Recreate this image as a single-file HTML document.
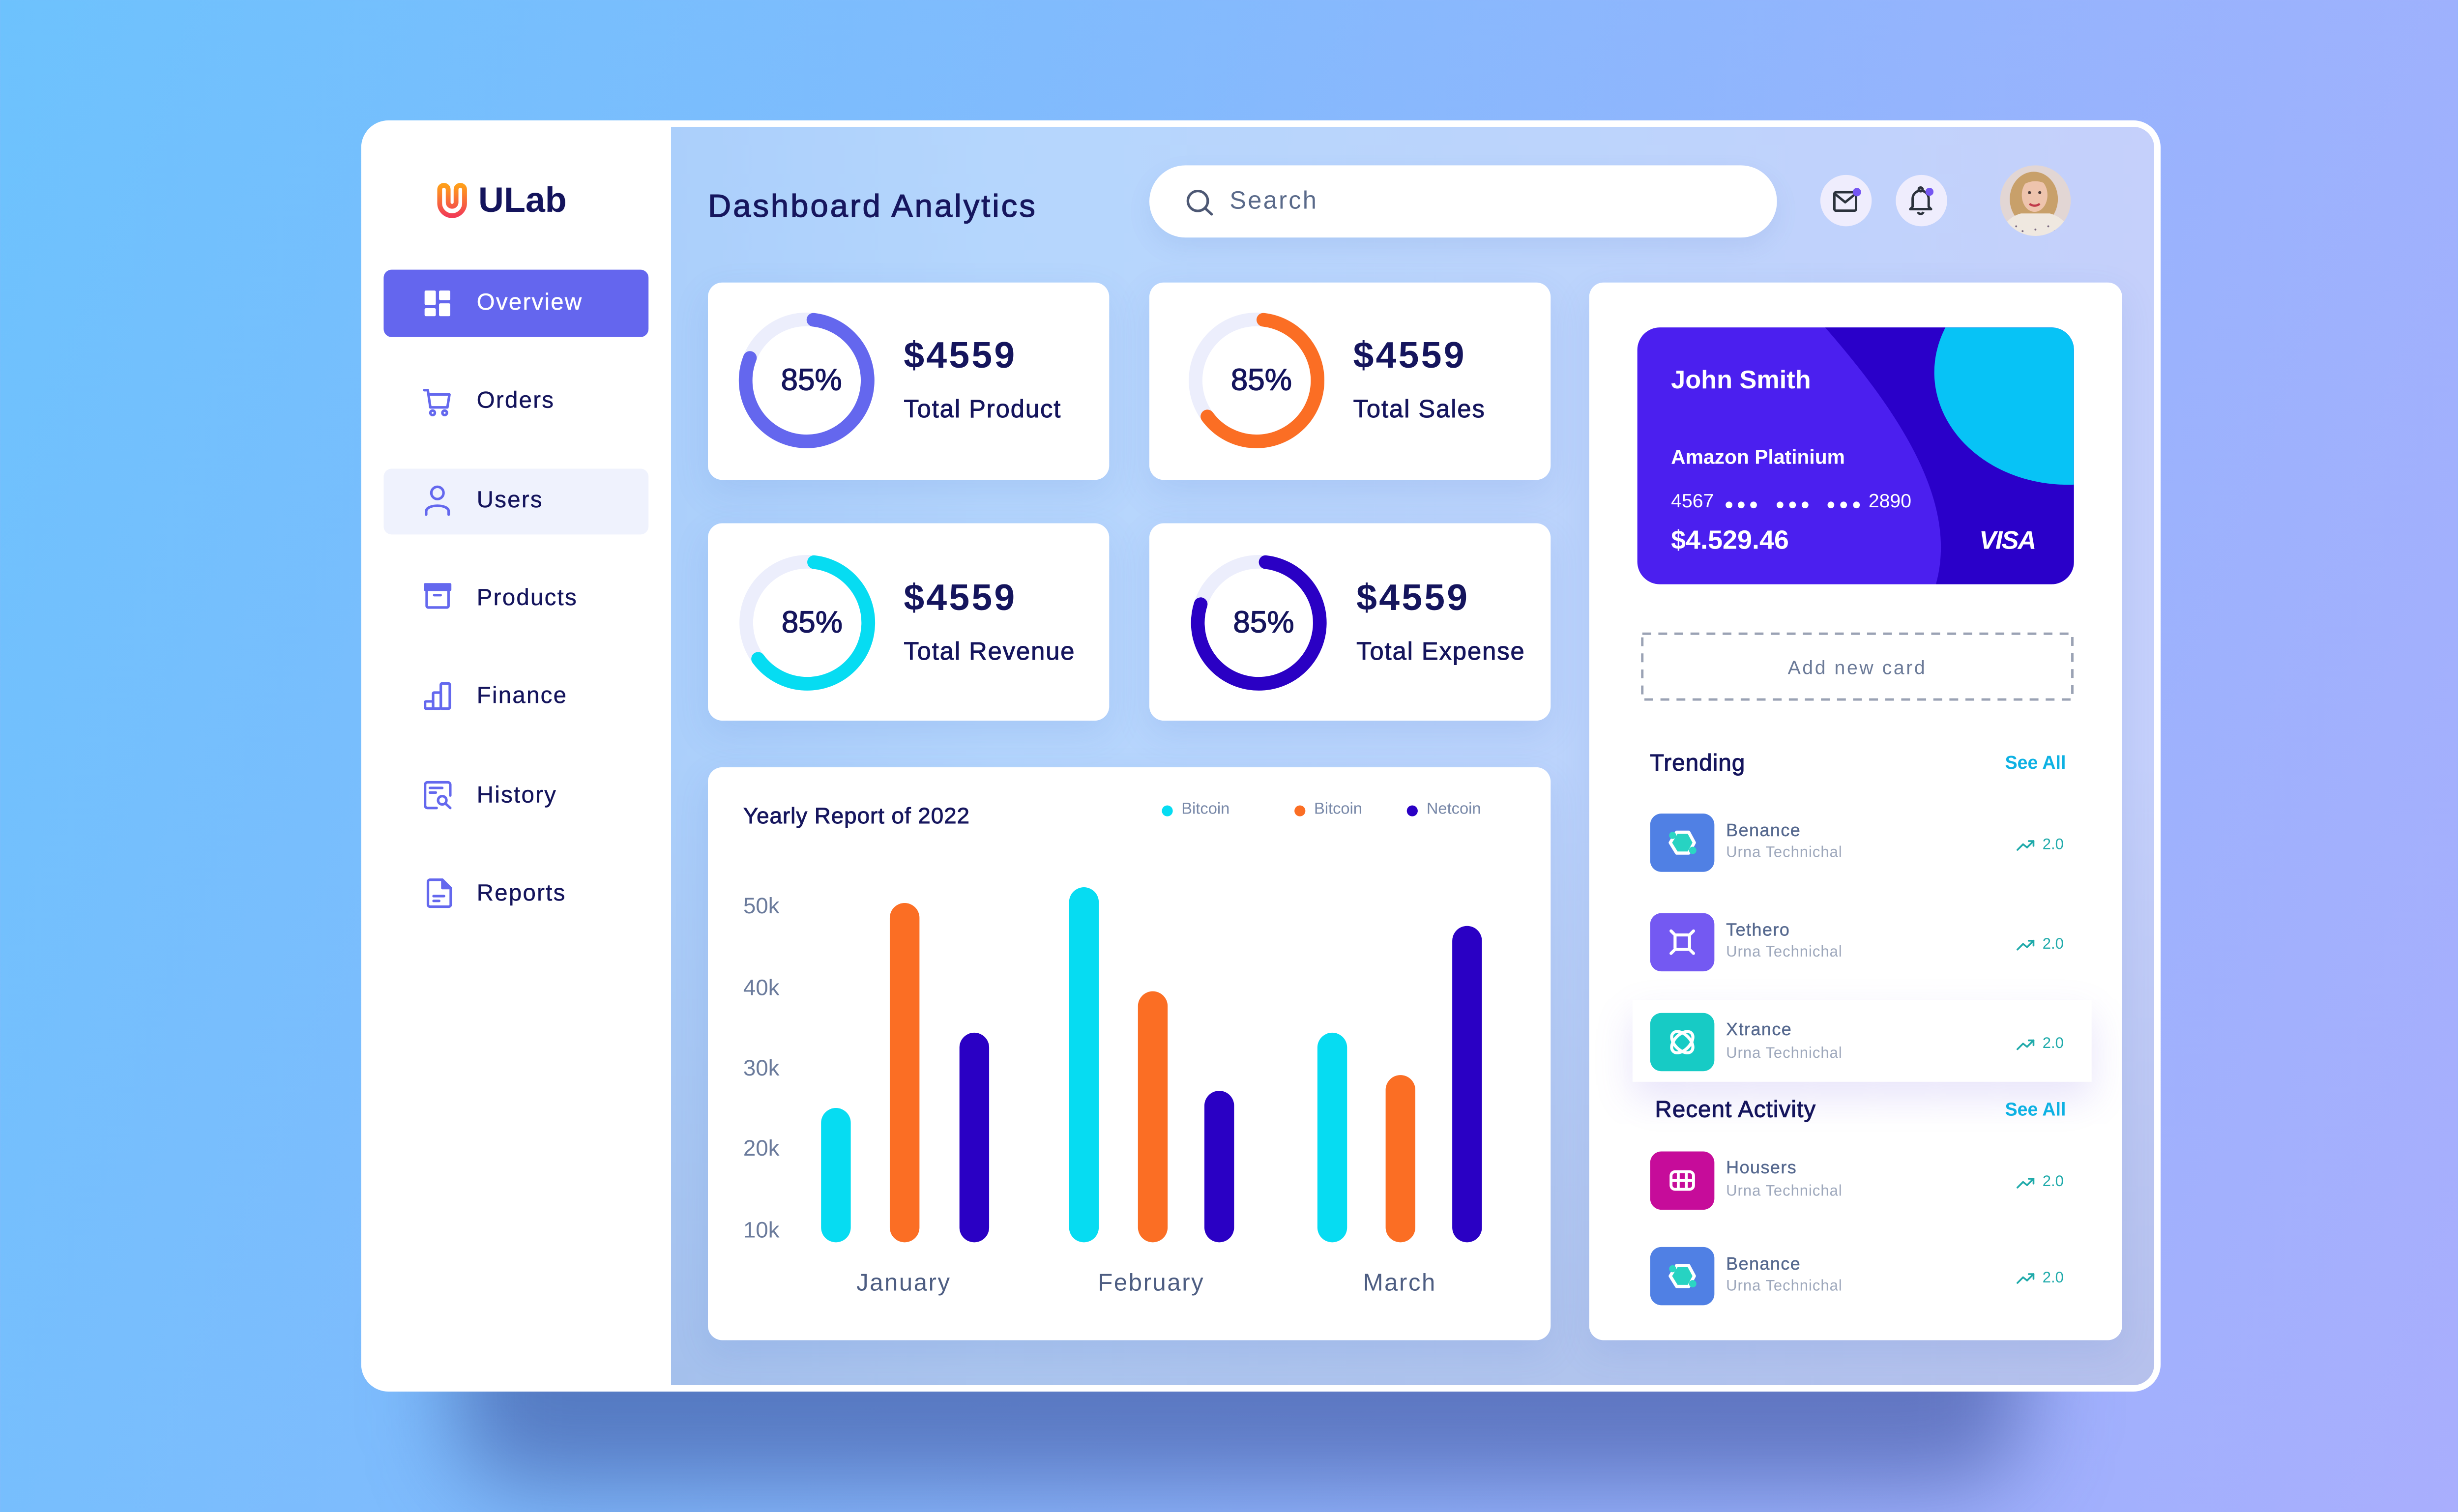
<!DOCTYPE html>
<html><head><meta charset="utf-8"><title>Dashboard Analytics</title>
<style>
html,body{margin:0;padding:0}
body{width:5120px;height:3076px;overflow:hidden;position:relative;background:linear-gradient(110deg,#6dc2fd 0%,#80bbfd 35%,#94b4fd 65%,#a9aefd 100%);font-family:"Liberation Sans",sans-serif}
#s{position:absolute;left:0;top:0;width:1568px;height:942px;transform:scale(3.265306);transform-origin:0 0}
.a{position:absolute}
.t{position:absolute;line-height:1;white-space:nowrap}
.card{position:absolute;background:#fff;border-radius:9px;box-shadow:0 8px 22px rgba(70,110,200,.13)}
.nav{left:297px;font-size:14.5px;color:#14145c;letter-spacing:.7px;-webkit-text-stroke:.15px #14145c}
.yl{left:463px;font-size:14px;color:#6b7b9c}
.ml{font-size:15px;color:#4d5d82;letter-spacing:.8px;width:120px;text-align:center}
.it{left:1075.3px;font-size:11px;color:#56698f;letter-spacing:.45px;-webkit-text-stroke:.15px #56698f}
.is{left:1075.3px;font-size:9.5px;color:#9ea8bc;letter-spacing:.3px}
.tv{left:1272.4px;font-size:9.5px;color:#1eaaaa}
.big{font-size:23px;font-weight:bold;color:#15155d;letter-spacing:1.3px}
.lab{font-size:15.5px;color:#15155d;letter-spacing:.6px;-webkit-text-stroke:.3px #15155d}
.pc{font-size:19px;color:#15155d;width:60px;text-align:center;-webkit-text-stroke:.4px #15155d}
.hd{font-size:14.5px;color:#15155d;letter-spacing:.35px;-webkit-text-stroke:.35px #15155d}
.sa{font-size:11.5px;font-weight:bold;color:#0db1e3;width:60px;text-align:right;left:1227px}
.lg{font-size:10px;color:#7888a8}
.w{color:#fff}
</style></head><body><div id="s">

<!-- frame shadow -->
<div class="a" style="left:285px;top:790px;width:975px;height:135px;background:rgba(50,70,145,.55);filter:blur(28px);border-radius:40px"></div>

<!-- frame -->
<div class="a" style="left:225px;top:75px;width:1121px;height:792px;background:#fff;border-radius:17px"></div>
<div class="a" style="left:418px;top:79px;width:924px;height:784px;border-radius:0 13px 13px 0;background:linear-gradient(180deg,rgba(150,160,205,0) 50%,rgba(150,160,205,.32) 100%),linear-gradient(90deg,#abcffb 0%,#b5d6fd 22%,#bcd4fc 60%,#c5d0fb 100%)"></div>

<!-- sidebar -->
<div class="a" style="left:239px;top:168px;width:165px;height:42px;border-radius:5px;background:#6466ee"></div>
<div class="a" style="left:239px;top:292px;width:165px;height:41px;border-radius:5px;background:#eff2fd"></div>
<div class="t" style="left:298px;top:114px;font-size:22px;font-weight:bold;color:#14145c">ULab</div>
<div class="t nav" style="top:181.8px;color:#fff;-webkit-text-stroke:.15px #fff">Overview</div>
<div class="t nav" style="top:243.2px">Orders</div>
<div class="t nav" style="top:304.8px">Users</div>
<div class="t nav" style="top:365.8px">Products</div>
<div class="t nav" style="top:427.2px">Finance</div>
<div class="t nav" style="top:488.8px">History</div>
<div class="t nav" style="top:549.8px">Reports</div>

<!-- header -->
<div class="t" style="left:441px;top:119px;font-size:20px;color:#16165e;letter-spacing:1.2px;-webkit-text-stroke:.4px #16165e">Dashboard Analytics</div>
<div class="a" style="left:716px;top:103px;width:391px;height:45px;border-radius:22.5px;background:#fff;box-shadow:0 6px 14px rgba(90,120,200,.12)"></div>
<div class="t" style="left:766px;top:118.2px;font-size:15.5px;color:#5a6a8a;letter-spacing:1px">Search</div>
<div class="a" style="left:1133.5px;top:109.3px;width:32px;height:32px;border-radius:50%;background:#efedfd"></div>
<div class="a" style="left:1180.5px;top:109.3px;width:32px;height:32px;border-radius:50%;background:#efedfd"></div>

<!-- stat cards -->
<div class="card" style="left:441px;top:176px;width:250px;height:123px"></div>
<div class="card" style="left:716px;top:176px;width:250px;height:123px"></div>
<div class="card" style="left:441px;top:326px;width:250px;height:123px"></div>
<div class="card" style="left:716px;top:326px;width:250px;height:123px"></div>
<div class="card" style="left:441px;top:478px;width:525px;height:357px"></div>
<div class="card" style="left:990px;top:176px;width:332px;height:659px"></div>

<!-- highlighted row -->
<div class="a" style="left:1016.8px;top:623px;width:286.6px;height:51.4px;background:#fff;box-shadow:0 10px 24px rgba(120,100,230,.18)"></div>

<!-- visa card -->
<div class="a" style="left:1020px;top:204px;width:272px;height:160px;border-radius:14px;overflow:hidden;background:#4b1fef">
<svg width="272" height="160" viewBox="0 0 272 160" style="position:absolute;left:0;top:0">
<path d="M117 0 C165 55 200 110 186 160 L272 160 L272 0 Z" fill="#2a00c9"/>
<ellipse cx="268" cy="28" rx="83" ry="70" fill="#07c3f6"/>
</svg>
</div>

<!-- global svg layer -->
<svg class="a" style="left:0;top:0" width="1568" height="942" viewBox="0 0 1568 942">
<defs>
<linearGradient id="lg1" x1="0" y1="0" x2="0" y2="1"><stop offset="0" stop-color="#ff9f1a"/><stop offset="1" stop-color="#f23d56"/></linearGradient>
<clipPath id="av"><circle cx="1268" cy="125" r="22"/></clipPath>
</defs>
<!-- logo -->
<g transform="translate(271.4,113.6)">
<path d="M7.8 12.5 V4.5 a2.65 2.65 0 0 0 -5.3 0 V13 a7.75 7.75 0 0 0 15.5 0 V4.5 a2.65 2.65 0 0 0 -5.3 0 V12.5 a2.45 2.45 0 0 1 -4.9 0 Z" fill="none" stroke="url(#lg1)" stroke-width="3" stroke-linejoin="round"/>
</g>
<!-- nav icons -->
<g fill="#fff" transform="translate(264.5,181)">
<rect x="0" y="0" width="7" height="9" rx=".8"/><rect x="9" y="0" width="7" height="6" rx=".8"/><rect x="0" y="11" width="7" height="5" rx=".8"/><rect x="9" y="8" width="7" height="8" rx=".8"/>
</g>
<g fill="none" stroke="#6468ee" stroke-width="1.6" stroke-linejoin="round" stroke-linecap="round">
<g transform="translate(263.5,242.3)"><path d="M0.8 0.8 H3 L4.6 11.5 H15.2 L16.5 3.5 H3.6"/><circle cx="6" cy="14.9" r="1.4"/><circle cx="13.5" cy="14.9" r="1.4"/></g>
<g transform="translate(264.5,302.6)"><circle cx="8" cy="4.5" r="3.8"/><path d="M1 18 V16 C1 11.3 15 11.3 15 16 V18"/></g>
<g transform="translate(264.5,363.8)"><rect x="0.3" y="0.3" width="15.6" height="3.3" fill="#6468ee"/><rect x="1.3" y="3.6" width="13.6" height="11.1" rx="1"/><path d="M6 7 H10"/></g>
<g transform="translate(264,425)"><rect x="0.8" y="12" width="5" height="4.5" rx=".6"/><rect x="5.8" y="6.5" width="4.8" height="10" rx=".6"/><rect x="10.6" y="0.8" width="5.6" height="15.7" rx=".8"/></g>
<g transform="translate(264,486.6)"><path d="M16.5 9 V2.3 a1.5 1.5 0 0 0 -1.5 -1.5 H2.3 a1.5 1.5 0 0 0 -1.5 1.5 V15.3 a1.5 1.5 0 0 0 1.5 1.5 H8"/><path d="M3.8 4.3 H11.5 M3.8 7.2 H7.5"/><circle cx="11.5" cy="12" r="2.6"/><path d="M13.4 13.9 L16.5 16.8"/></g>
<g transform="translate(265.6,547.3)"><path d="M2.3 0.8 H10 L15.2 6 V16.3 a1.3 1.3 0 0 1 -1.3 1.3 H2.3 a1.3 1.3 0 0 1 -1.3 -1.3 V2.1 a1.3 1.3 0 0 1 1.3 -1.3 Z"/><path d="M10 0.8 V6 H15.2" fill="#6468ee"/><path d="M4.5 11 H11 M4.5 14 H8"/></g>
</g>
<!-- search / header icons -->
<g fill="none" stroke="#4d5874" stroke-width="1.6" stroke-linecap="round"><circle cx="746.2" cy="125.2" r="6.2"/><path d="M750.8 129.8 L754.8 133.5"/></g>
<g fill="none" stroke="#2b323c" stroke-width="1.5" stroke-linejoin="round">
<g transform="translate(1142,119)"><rect x=".75" y=".75" width="13.5" height="11.5" rx="1"/><path d="M.75 1.5 L7.5 7 L14.25 1.5"/></g>
<g transform="translate(1189.5,115.8)"><path d="M2 13 V8 a5 5 0 0 1 10 0 V13 L13.5 14.5 H0.5 Z"/><path d="M5.3 16.3 a1.8 1.8 0 0 0 3.4 0"/><circle cx="7" cy="2.2" r="1.2"/></g>
</g>
<circle cx="1156.8" cy="119.7" r="2.6" fill="#7556f2"/>
<circle cx="1202" cy="119.5" r="2.5" fill="#7556f2"/>
<!-- avatar -->
<g clip-path="url(#av)">
<rect x="1246" y="103" width="44" height="44" fill="#e2d6d4"/>
<ellipse cx="1267" cy="124" rx="15" ry="17" fill="#c8a06a"/>
<path d="M1246 148 Q1248 136 1259 133 L1277 133 Q1288 136 1291 148 Z" fill="#efe8e0"/>
<ellipse cx="1267.5" cy="121.5" rx="8" ry="10.5" fill="#eec4ad"/>
<path d="M1257 118 Q1260 106 1272 108 Q1278 110.5 1279 119 Q1274 112 1266 113 Q1260.5 114 1257 118 Z" fill="#c8a06a"/>
<path d="M1264.3 127 Q1267.5 129.3 1270.7 127" stroke="#c0394a" stroke-width="1.4" fill="none"/>
<circle cx="1264.3" cy="120" r=".95" fill="#4a3a3a"/><circle cx="1270.7" cy="120" r=".95" fill="#4a3a3a"/>
<g fill="#7a6a80"><circle cx="1256" cy="141" r=".6"/><circle cx="1260" cy="144" r=".6"/><circle cx="1276" cy="141" r=".6"/><circle cx="1280" cy="144" r=".6"/><circle cx="1268" cy="143" r=".6"/></g>
</g>
<!-- donuts -->
<g fill="none" stroke-width="8.5">
<circle cx="502.5" cy="237" r="38" stroke="#eceefc"/>
<circle cx="502.5" cy="237" r="38" stroke="#6467ee" stroke-linecap="round" stroke-dasharray="189.1 300" stroke-dashoffset="-4.25" transform="rotate(-90 502.5 237)"/>
<circle cx="782.8" cy="237" r="38" stroke="#eceefc"/>
<circle cx="782.8" cy="237" r="38" stroke="#fb6e24" stroke-linecap="round" stroke-dasharray="150.7 300" stroke-dashoffset="-4.25" transform="rotate(-90 782.8 237)"/>
<circle cx="502.9" cy="388" r="38" stroke="#eceefc"/>
<circle cx="502.9" cy="388" r="38" stroke="#06dcf2" stroke-linecap="round" stroke-dasharray="150.7 300" stroke-dashoffset="-4.25" transform="rotate(-90 502.9 388)"/>
<circle cx="784.2" cy="388" r="38" stroke="#eceefc"/>
<circle cx="784.2" cy="388" r="38" stroke="#2a00c4" stroke-linecap="round" stroke-dasharray="186.5 300" stroke-dashoffset="-4.25" transform="rotate(-90 784.2 388)"/>
</g>
<!-- legend dots -->
<circle cx="727.2" cy="505.2" r="3.4" fill="#06dcf2"/>
<circle cx="809.8" cy="505.2" r="3.4" fill="#fb6e24"/>
<circle cx="879.8" cy="505.2" r="3.4" fill="#2a00c4"/>
<!-- bars -->
<rect x="511.5" y="690.3" width="18.5" height="83.7" rx="9.25" fill="#06dcf2"/>
<rect x="554.3" y="562.6" width="18.5" height="211.4" rx="9.25" fill="#fb6e24"/>
<rect x="597.7" y="643.4" width="18.5" height="130.6" rx="9.25" fill="#2a00c4"/>
<rect x="666" y="552.8" width="18.5" height="221.2" rx="9.25" fill="#06dcf2"/>
<rect x="708.9" y="617.6" width="18.5" height="156.4" rx="9.25" fill="#fb6e24"/>
<rect x="750.3" y="679.6" width="18.5" height="94.4" rx="9.25" fill="#2a00c4"/>
<rect x="820.7" y="643.4" width="18.5" height="130.6" rx="9.25" fill="#06dcf2"/>
<rect x="863.2" y="669.8" width="18.5" height="104.2" rx="9.25" fill="#fb6e24"/>
<rect x="904.7" y="576.9" width="18.5" height="197.1" rx="9.25" fill="#2a00c4"/>
<!-- card number dots -->
<g fill="#fff">
<circle cx="1077.1" cy="314.6" r="2.1"/><circle cx="1084.7" cy="314.6" r="2.1"/><circle cx="1092.4" cy="314.6" r="2.1"/>
<circle cx="1108.9" cy="314.6" r="2.1"/><circle cx="1116.7" cy="314.6" r="2.1"/><circle cx="1124.5" cy="314.6" r="2.1"/>
<circle cx="1140.6" cy="314.6" r="2.1"/><circle cx="1148.5" cy="314.6" r="2.1"/><circle cx="1156.5" cy="314.6" r="2.1"/>
</g>
<!-- dashed box -->
<rect x="1023.1" y="394.8" width="267.9" height="41" fill="none" stroke="#9aa2b4" stroke-width="1.5" stroke-dasharray="5.5 4.5"/>
<!-- list icon boxes -->
<rect x="1028" y="506.9" width="40" height="36.3" rx="7" fill="#5080e4"/>
<rect x="1028" y="568.9" width="40" height="36.3" rx="7" fill="#7459f2"/>
<rect x="1028" y="631.1" width="40" height="36.3" rx="7" fill="#17cbc5"/>
<rect x="1028" y="717.4" width="40" height="36.3" rx="7" fill="#c60c9a"/>
<rect x="1028" y="776.9" width="40" height="36.3" rx="7" fill="#5080e4"/>
<!-- list glyphs -->
<g transform="translate(1048,525)"><polygon points="-3.5,-6.5 4,-6.5 7.5,0 4,6.5 -3.5,6.5 -7.5,0" fill="#27d3c2" stroke="#fff" stroke-width="2" stroke-linejoin="round"/><circle cx="-6" cy="-4.5" r="2.2" fill="#2bd6c3"/><circle cx="6.5" cy="4.8" r="2.3" fill="#2bd6c3"/></g>
<g transform="translate(1048,587)" fill="none" stroke="#fff" stroke-width="1.9" stroke-linecap="round"><rect x="-4.5" y="-4.5" width="9" height="9" rx="1"/><path d="M-4.5 -4.5 L-7 -7 M4.5 -4.5 L7 -7 M-4.5 4.5 L-7 7 M4.5 4.5 L7 7"/></g>
<g transform="translate(1048,649.3)" fill="none" stroke="#fff" stroke-width="1.9"><ellipse rx="8" ry="4.8" transform="rotate(45)"/><ellipse rx="8" ry="4.8" transform="rotate(-45)"/></g>
<g transform="translate(1048,735.5)" fill="none" stroke="#fff" stroke-width="1.8"><rect x="-7" y="-5.5" width="14" height="11" rx="2.5"/><path d="M-7 0 H7 M-2.5 -5.5 V5.5 M2.5 -5.5 V5.5"/></g>
<g transform="translate(1048,795)"><polygon points="-3.5,-6.5 4,-6.5 7.5,0 4,6.5 -3.5,6.5 -7.5,0" fill="#27d3c2" stroke="#fff" stroke-width="2" stroke-linejoin="round"/><circle cx="-6" cy="-4.5" r="2.2" fill="#2bd6c3"/><circle cx="6.5" cy="4.8" r="2.3" fill="#2bd6c3"/></g>
<!-- trend arrows -->
<g fill="none" stroke="#1eaaaa" stroke-width="1.1" stroke-linecap="round" stroke-linejoin="round">
<g transform="translate(1256.3,523)"><polyline points="0.5,6.5 4,3 6.5,5 10.5,1"/><polyline points="7.5,1 10.5,1 10.5,4"/></g>
<g transform="translate(1256.3,585.1)"><polyline points="0.5,6.5 4,3 6.5,5 10.5,1"/><polyline points="7.5,1 10.5,1 10.5,4"/></g>
<g transform="translate(1256.3,647.2)"><polyline points="0.5,6.5 4,3 6.5,5 10.5,1"/><polyline points="7.5,1 10.5,1 10.5,4"/></g>
<g transform="translate(1256.3,733.4)"><polyline points="0.5,6.5 4,3 6.5,5 10.5,1"/><polyline points="7.5,1 10.5,1 10.5,4"/></g>
<g transform="translate(1256.3,792.8)"><polyline points="0.5,6.5 4,3 6.5,5 10.5,1"/><polyline points="7.5,1 10.5,1 10.5,4"/></g>
</g>
</svg>

<!-- stat texts -->
<div class="t pc" style="left:475.5px;top:227.5px">85%</div>
<div class="t pc" style="left:755.8px;top:227.5px">85%</div>
<div class="t pc" style="left:475.9px;top:378.5px">85%</div>
<div class="t pc" style="left:757.2px;top:378.5px">85%</div>
<div class="t big" style="left:563px;top:209.5px">$4559</div>
<div class="t big" style="left:843px;top:209.5px">$4559</div>
<div class="t big" style="left:563px;top:360.5px">$4559</div>
<div class="t big" style="left:845px;top:360.5px">$4559</div>
<div class="t lab" style="left:563px;top:247.5px">Total Product</div>
<div class="t lab" style="left:843px;top:247.5px">Total Sales</div>
<div class="t lab" style="left:563px;top:398.5px">Total Revenue</div>
<div class="t lab" style="left:845px;top:398.5px">Total Expense</div>

<!-- chart texts -->
<div class="t" style="left:463px;top:500.5px;font-size:14px;color:#16165e;letter-spacing:.3px;-webkit-text-stroke:.3px #16165e">Yearly Report of 2022</div>
<div class="t lg" style="left:736px;top:500.2px">Bitcoin</div>
<div class="t lg" style="left:818.6px;top:500.2px">Bitcoin</div>
<div class="t lg" style="left:888.7px;top:500.2px">Netcoin</div>
<div class="t yl" style="top:556.7px">50k</div>
<div class="t yl" style="top:607.6px">40k</div>
<div class="t yl" style="top:658px">30k</div>
<div class="t yl" style="top:708.3px">20k</div>
<div class="t yl" style="top:759px">10k</div>
<div class="t ml" style="left:503px;top:792.2px">January</div>
<div class="t ml" style="left:657.2px;top:792.2px">February</div>
<div class="t ml" style="left:812px;top:792.2px">March</div>

<!-- visa texts -->
<div class="t w" style="left:1041px;top:230.3px;font-size:16px;font-weight:bold">John Smith</div>
<div class="t w" style="left:1041px;top:278.7px;font-size:12.5px;font-weight:bold">Amazon Platinium</div>
<div class="t w" style="left:1041px;top:306.2px;font-size:12px">4567</div>
<div class="t w" style="left:1164px;top:306.2px;font-size:12px">2890</div>
<div class="t w" style="left:1041px;top:328.8px;font-size:16.5px;font-weight:bold">$4.529.46</div>
<div class="t w" style="left:1233px;top:329.5px;font-size:16px;font-weight:bold;font-style:italic;letter-spacing:-.6px">VISA</div>

<!-- right panel texts -->
<div class="t" style="left:1057px;top:409.6px;width:200px;text-align:center;font-size:12px;color:#6b7a98;letter-spacing:1.1px">Add new card</div>
<div class="t hd" style="left:1027.8px;top:469.3px">Trending</div>
<div class="t sa" style="top:471.4px">See All</div>
<div class="t hd" style="left:1031px;top:684.8px">Recent Activity</div>
<div class="t sa" style="top:686.9px">See All</div>

<div class="t it" style="top:512.7px">Benance</div>
<div class="t is" style="top:527.2px">Urna Technichal</div>
<div class="t tv" style="top:521.7px">2.0</div>

<div class="t it" style="top:574.9px">Tethero</div>
<div class="t is" style="top:589.2px">Urna Technichal</div>
<div class="t tv" style="top:583.8px">2.0</div>

<div class="t it" style="top:637px">Xtrance</div>
<div class="t is" style="top:651.5px">Urna Technichal</div>
<div class="t tv" style="top:645.9px">2.0</div>

<div class="t it" style="top:723.1px">Housers</div>
<div class="t is" style="top:737.6px">Urna Technichal</div>
<div class="t tv" style="top:732.1px">2.0</div>

<div class="t it" style="top:782.7px">Benance</div>
<div class="t is" style="top:797px">Urna Technichal</div>
<div class="t tv" style="top:791.5px">2.0</div>

</div></body></html>
